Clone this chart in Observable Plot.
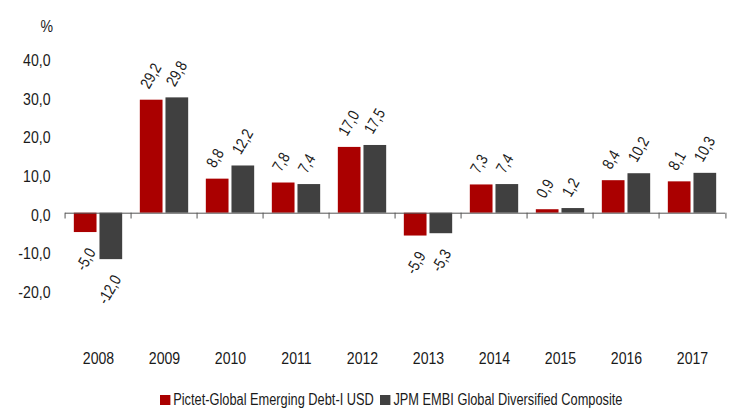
<!DOCTYPE html>
<html>
<head>
<meta charset="utf-8">
<script src="https://cdn.jsdelivr.net/npm/d3@7"></script>
<script src="https://cdn.jsdelivr.net/npm/@observablehq/plot@0.6"></script>
<style>
  html, body { margin: 0; padding: 0; background: white; }
  #legend { position: relative; height: 24px; }
  #legend .inner { position: absolute; left: 160px; top: 6px; height: 18px; display: flex; align-items: center;
            white-space: nowrap; transform: scaleX(0.8); transform-origin: 0 50%;
            font-family: 'Liberation Sans', Arial, sans-serif; font-size: 16px; color: #1a1a1a; }
  #legend .sw { display: inline-block; width: 12.5px; height: 10px; margin-right: 4px; }
  #legend .item { display: flex; align-items: center; margin-right: 8px; }
</style>
</head>
<body>
<div id="chart"></div>
<div id="legend"><div class="inner"></div></div>
<script>
const years = ["2008", "2009", "2010", "2011", "2012", "2013", "2014", "2015", "2016", "2017"];
const series = ["Pictet-Global Emerging Debt-I USD", "JPM EMBI Global Diversified Composite"];
const colors = ["#aa0000", "#404040"];
const pictet = [-5.0, 29.2, 8.8, 7.8, 17.0, -5.9, 7.3, 0.9, 8.4, 8.1];
const jpm = [-12.0, 29.8, 12.2, 7.4, 17.5, -5.3, 7.4, 1.2, 10.2, 10.3];
const yTicks = [-20, -10, 0, 10, 20, 30, 40];
const yUnit = "%";

const data = years.flatMap((y, i) => [
  {year: y, series: series[0], value: pictet[i]},
  {year: y, series: series[1], value: jpm[i]}
]);
const fmt = v => v.toFixed(1).replace(".", ",");

const W = 735, H = 385, mL = 61, mR = 5.4;
const facetW = (W - mL - mR) / years.length;
const font = "'Liberation Sans', Arial, sans-serif";
const narrow = 0.83;

const chart = Plot.plot({
  width: W, height: H,
  marginLeft: mL, marginRight: mR, marginTop: 19.2, marginBottom: 56.2,
  style: {fontFamily: font, fontSize: "17px", color: "#1a1a1a", background: "white"},
  fx: {domain: years, padding: 0, label: null},
  x: {domain: series, paddingInner: 0.115, paddingOuter: 0.344, axis: null, round: false},
  y: {domain: [-30, 50]},
  color: {domain: series, range: colors},
  marks: [
    Plot.axisY({ticks: yTicks, tickFormat: fmt, tickSize: 0, tickPadding: 15, dy: 2, label: null}),
    Plot.axisFx({anchor: "bottom", tickSize: 0, tickPadding: 23, label: null}),
    Plot.text([yUnit], {fx: () => years[0], text: d => d, frameAnchor: "top-left", textAnchor: "start",
      lineAnchor: "top", dx: -25, dy: 0, fontSize: 17, fill: "#1a1a1a"}),
    Plot.barY(data, {fx: "year", x: "series", y: "value", fill: "series"}),
    Plot.ruleY([0], {stroke: "#555", strokeWidth: 1}),
    Plot.ruleX(years, {fx: d => d, x: null, y1: 0, y2: -1.5, dx: -facetW / 2, stroke: "#555"}),
    Plot.ruleX([years[years.length - 1]], {fx: d => d, x: null, y1: 0, y2: -1.5, dx: facetW / 2, stroke: "#555"}),
    Plot.text(data.filter(d => d.value >= 0), {fx: "year", x: "series", y: "value", text: d => fmt(d.value),
      rotate: -60, textAnchor: "start", dx: -7, dy: -13, fontSize: 16, fill: "#1a1a1a"}),
    Plot.text(data.filter(d => d.value < 0), {fx: "year", x: "series", y: "value", text: d => fmt(d.value),
      rotate: -60, textAnchor: "end", dx: 6, dy: 17, fontSize: 16, fill: "#1a1a1a"})
  ]
});

// condense all texts horizontally (narrow grotesque look)
chart.querySelectorAll("text").forEach(t => {
  const x = +t.getAttribute("x") || 0;
  const tr = t.getAttribute("transform") || "";
  t.setAttribute("transform", `${tr} translate(${x},0) scale(${narrow},1) translate(${-x},0)`);
});
document.getElementById("chart").append(chart);

const legend = document.querySelector("#legend .inner");
series.forEach((s, i) => {
  const item = document.createElement("span");
  item.className = "item";
  const sw = document.createElement("span");
  sw.className = "sw";
  sw.style.background = colors[i];
  const t = document.createElement("span");
  t.textContent = s;
  item.append(sw, t);
  legend.append(item);
});
</script>
</body>
</html>
